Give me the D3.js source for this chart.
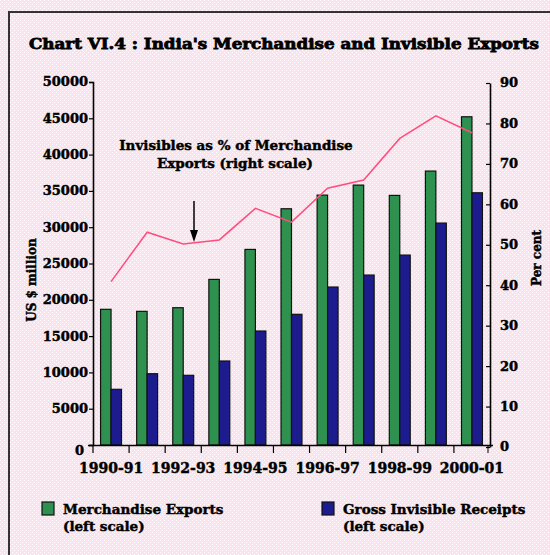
<!DOCTYPE html>
<html>
<head>
<meta charset="utf-8">
<script src="https://cdn.jsdelivr.net/npm/d3@7"></script>
<style>
  body { margin: 0; background: #fff; }
  svg text { font-family: "DejaVu Serif", serif; font-weight: bold; fill: #000; stroke: #000; stroke-width: 0.45px; }
</style>
</head>
<body>
<div id="chart"></div>
<script>
// data
let years = ["1990-91","1991-92","1992-93","1993-94","1994-95","1995-96","1996-97","1997-98","1998-99","1999-00","2000-01"];
let merchandise = [18690, 18410, 18910, 22810, 26940, 32540, 34420, 35800, 34380, 37730, 45210];
let invisibles = [7670, 9820, 9600, 11570, 15700, 18000, 21760, 23410, 26160, 30570, 34740];
let percentShare = [40.9, 53.1, 50.2, 51.2, 59.0, 55.6, 64.0, 66.0, 76.3, 81.9, 77.7];
let leftTicks = [0, 5000, 10000, 15000, 20000, 25000, 30000, 35000, 40000, 45000, 50000];
let rightTicks = [0, 10, 20, 30, 40, 50, 60, 70, 80, 90];

let W = 550, H = 555;
let plot = {left: 93, right: 490, top: 82, bottom: 445};

let svg = d3.select("#chart")
  .append("svg")
    .attr("width", W)
    .attr("height", H);

// pink dotted paper
let defs = svg.append("defs");
let pat = defs.append("pattern")
  .attr("id", "paper")
  .attr("width", 4).attr("height", 4)
  .attr("patternUnits", "userSpaceOnUse");
pat.append("rect").attr("width", 4).attr("height", 4).attr("fill", "#fce2ee");
pat.append("rect").attr("x", 0).attr("y", 0).attr("width", 1).attr("height", 1).attr("fill", "#fff");
pat.append("rect").attr("x", 2).attr("y", 2).attr("width", 1).attr("height", 1).attr("fill", "#fff");

svg.append("rect")
  .attr("width", W).attr("height", H)
  .attr("fill", "url(#paper)");

// frame (only top and left edges show)
svg.append("path")
  .attr("d", "M9,555 V12 H550")
  .attr("fill", "none")
  .attr("stroke", "#333")
  .attr("stroke-width", 2);

svg.append("text")
  .attr("x", 284)
  .attr("y", 49)
  .attr("text-anchor", "middle")
  .attr("font-size", 15)
  .attr("textLength", 510)
  .attr("lengthAdjust", "spacingAndGlyphs")
  .style("stroke-width", "0.8px")
  .text("Chart VI.4 : India's Merchandise and Invisible Exports");

// scales
let x = d3.scaleBand()
  .domain(years)
  .range([plot.left, plot.right])
  .paddingInner(0)
  .paddingOuter(0);

let y = d3.scaleLinear()
  .domain([0, 50000])
  .range([plot.bottom, plot.top]);

let yRight = d3.scaleLinear()
  .domain([0, 90])
  .range([plot.bottom + 2, plot.top + 1]);

let barW = x.bandwidth() * 0.29;
let barOff = (x.bandwidth() - 2 * barW) / 2;

// bars
svg.selectAll("rect.merch")
  .data(years)
  .enter()
  .append("rect")
    .attr("class", "merch")
    .attr("x", d => x(d) + barOff)
    .attr("y", (d, i) => y(merchandise[i]))
    .attr("width", barW)
    .attr("height", (d, i) => y(0) - y(merchandise[i]))
    .attr("fill", "#2f9150")
    .attr("stroke", "#111")
    .attr("stroke-width", 1.2);

svg.selectAll("rect.invis")
  .data(years)
  .enter()
  .append("rect")
    .attr("class", "invis")
    .attr("x", d => x(d) + barOff + barW)
    .attr("y", (d, i) => y(invisibles[i]))
    .attr("width", barW)
    .attr("height", (d, i) => y(0) - y(invisibles[i]))
    .attr("fill", "#1c1c8e")
    .attr("stroke", "#111")
    .attr("stroke-width", 1.2);

// percentage line
let line = d3.line()
  .x((d, i) => x(years[i]) + x.bandwidth() / 2)
  .y(d => yRight(d));

svg.append("path")
  .datum(percentShare)
  .attr("d", line)
  .attr("fill", "none")
  .attr("stroke", "#ff4d7d")
  .attr("stroke-width", 1.5);

// axes
let yAxis = d3.axisLeft(y)
  .tickValues(leftTicks)
  .tickSize(4)
  .tickPadding(1)
  .tickFormat(d3.format("d"));

let gy = svg.append("g")
  .attr("transform", "translate(" + plot.left + ",0)")
  .call(yAxis);
gy.selectAll("text").attr("font-size", 13).attr("dy", "0.3em");
gy.selectAll("text").filter(d => d === 0).attr("x", -9).attr("dy", "0.7em");

let yAxisR = d3.axisRight(yRight)
  .tickValues(rightTicks)
  .tickSizeInner(-4)
  .tickSizeOuter(0)
  .tickPadding(10);

let gr = svg.append("g")
  .attr("transform", "translate(" + plot.right + ",0)")
  .call(yAxisR);
gr.selectAll("text").attr("font-size", 13).attr("dy", "0.3em");

let xAxis = d3.axisBottom(x)
  .tickSize(8)
  .tickSizeOuter(0)
  .tickFormat((d, i) => i % 2 === 0 ? d : "");

let gx = svg.append("g")
  .attr("transform", "translate(0," + plot.bottom + ")")
  .call(xAxis);
gx.selectAll(".tick line")
  .attr("transform", "translate(" + (-x.bandwidth() / 2) + ",0)");
gx.selectAll("text").attr("font-size", 14).attr("dy", "1.2em");
// closing tick at right end
gx.append("line")
  .attr("x1", plot.right - 2).attr("x2", plot.right - 2)
  .attr("y1", 0).attr("y2", 8)
  .attr("stroke", "#000");
gx.select(".domain").attr("d", "M" + (plot.left - 5) + ",0.5H" + (plot.right + 3));

svg.selectAll(".domain").attr("stroke", "#000").attr("stroke-width", 1.6);
svg.selectAll(".tick line").attr("stroke", "#000").attr("stroke-width", 1.2);

// axis titles
svg.append("text")
  .attr("transform", "translate(36,280) rotate(-90)")
  .attr("text-anchor", "middle")
  .attr("font-size", 12)
  .text("US $ million");

svg.append("text")
  .attr("transform", "translate(541,258) rotate(-90)")
  .attr("text-anchor", "middle")
  .attr("font-size", 12)
  .text("Per cent");

// annotation
svg.append("text")
  .attr("x", 236).attr("y", 150)
  .attr("text-anchor", "middle")
  .attr("font-size", 13.5)
  .text("Invisibles as % of Merchandise");
svg.append("text")
  .attr("x", 235).attr("y", 168)
  .attr("text-anchor", "middle")
  .attr("font-size", 13.5)
  .text("Exports (right scale)");

svg.append("line")
  .attr("x1", 194).attr("y1", 201)
  .attr("x2", 194).attr("y2", 234)
  .attr("stroke", "#000")
  .attr("stroke-width", 1.5);
svg.append("path")
  .attr("d", "M190,230 L198,230 L194,242 Z")
  .attr("fill", "#000");

// legend
let legend = [
  {label: "Merchandise Exports", sub: "(left scale)", color: "#2f9150", x: 42, tx: 63},
  {label: "Gross Invisible Receipts", sub: "(left scale)", color: "#1c1c8e", x: 322, tx: 343}
];

legend.forEach(function(l) {
  svg.append("rect")
    .attr("x", l.x).attr("y", 502)
    .attr("width", 12).attr("height", 13)
    .attr("fill", l.color)
    .attr("stroke", "#111")
    .attr("stroke-width", 1.2);
  svg.append("text")
    .attr("x", l.tx).attr("y", 514)
    .attr("font-size", 13.5)
    .text(l.label);
  svg.append("text")
    .attr("x", l.tx).attr("y", 531)
    .attr("font-size", 13.5)
    .text(l.sub);
});
</script>
</body>
</html>
